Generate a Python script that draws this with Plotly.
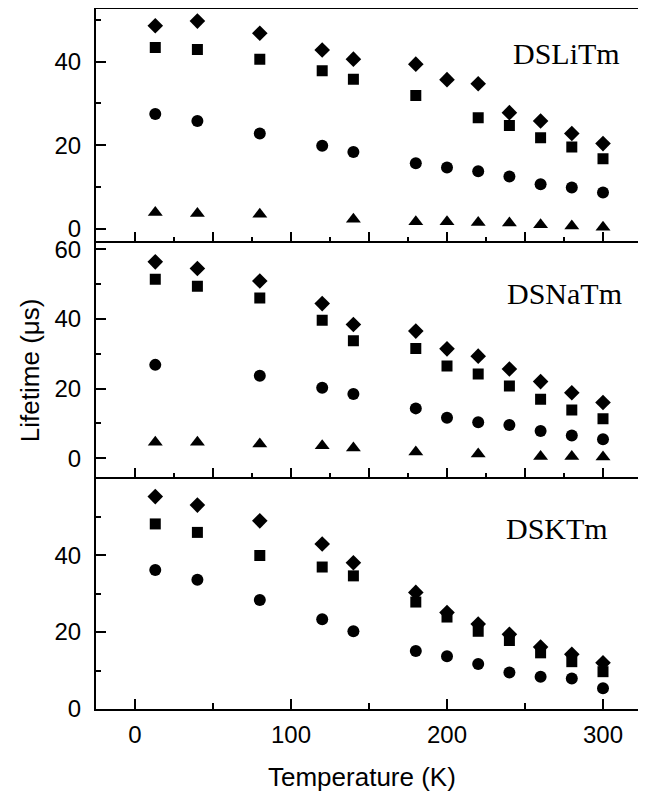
import plotly.graph_objects as go
from plotly.subplots import make_subplots

temperature = [13, 40, 80, 120, 140, 180, 200, 220, 240, 260, 280, 300]

# DSLiTm
li_diamond = [48.6, 49.7, 46.8, 42.8, 40.6, 39.4, 35.7, 34.7, 27.8, 25.8, 22.8, 20.4]
li_square = [43.4, 42.9, 40.6, 37.8, 35.8, 31.9, None, 26.6, 24.7, 21.8, 19.6, 16.8]
li_circle = [27.5, 25.8, 22.8, 19.9, 18.4, 15.7, 14.7, 13.8, 12.5, 10.7, 9.9, 8.7]
li_triangle = [3.9, 3.7, 3.5, None, 2.3, 1.7, 1.7, 1.5, 1.4, 1.0, 0.7, 0.4]

# DSNaTm
na_diamond = [56.4, 54.5, 50.9, 44.4, 38.4, 36.5, 31.4, 29.3, 25.6, 22.0, 18.8, 16.0]
na_square = [51.4, 49.4, 46.0, 39.6, 33.7, 31.5, 26.5, 24.2, 20.7, 16.9, 13.8, 11.3]
na_circle = [26.8, None, 23.7, 20.2, 18.4, 14.3, 11.6, 10.3, 9.5, 7.8, 6.5, 5.4]
na_triangle = [4.6, 4.6, 4.1, 3.6, 2.9, 1.8, None, 1.2, None, 0.5, 0.5, 0.3]

# DSKTm
k_diamond = [55.2, 53.0, 48.9, 42.9, 38.0, 30.3, 25.1, 22.1, 19.4, 16.1, 14.2, 12.0]
k_square = [48.1, 45.9, 39.9, 36.9, 34.6, 27.8, 23.9, 20.2, 17.8, 14.6, 12.3, 9.7]
k_circle = [36.1, 33.6, 28.3, 23.3, 20.2, 15.1, 13.7, 11.7, 9.5, 8.4, 7.9, 5.4]

panel_names = ["DSLiTm", "DSNaTm", "DSKTm"]
y_ranges = [[-3, 52.6], [-5.5, 61.7], [0, 59.7]]

fig = make_subplots(rows=3, cols=1, shared_xaxes=True, vertical_spacing=0)

def add_series(row, ys, symbol, size):
    fig.add_trace(go.Scatter(x=temperature, y=ys, mode="markers",
                             marker=dict(symbol=symbol, size=size, color="black",
                                         line=dict(width=0)),
                             showlegend=False), row=row, col=1)

for row, series in enumerate([
        (li_diamond, li_square, li_circle, li_triangle),
        (na_diamond, na_square, na_circle, na_triangle),
        (k_diamond, k_square, k_circle, None)], start=1):
    d, s, c, t = series
    add_series(row, c, "circle", 12)
    if t is not None:
        add_series(row, t, "triangle-up", 13)
    add_series(row, s, "square", 11)
    add_series(row, d, "diamond", 12)

tick_font = dict(family="Liberation Sans, Arial, sans-serif", size=24, color="black")
gap = 2 / 700
domains = [[0.668, 1.0], [0.331, 0.668 - gap], [0.0, 0.331 - gap]]

for i in range(3):
    sfx = "" if i == 0 else str(i + 1)
    bottom = (i == 2)
    fig.layout["xaxis" + sfx].update(
        range=[-25, 325], showline=True, mirror=True, linecolor="black", linewidth=2,
        ticks="inside", ticklen=10 if bottom else 9, tickwidth=2, tickcolor="black",
        tick0=0, dtick=100 if bottom else 50,
        minor=dict(ticks="inside", dtick=50 if bottom else 25, ticklen=6 if bottom else 4,
                   tickwidth=2, tickcolor="black"),
        showticklabels=bottom, tickfont=tick_font, ticklabelstandoff=3,
        showgrid=False, zeroline=False, automargin=False)
    fig.layout["yaxis" + sfx].update(
        domain=domains[i], range=y_ranges[i], showline=True, mirror=True,
        linecolor="black", linewidth=2,
        ticks="inside", ticklen=10, tickwidth=2, tickcolor="black",
        tick0=0, dtick=20,
        minor=dict(ticks="inside", dtick=10, ticklen=5, tickwidth=2, tickcolor="black"),
        tickfont=tick_font, ticklabelstandoff=8,
        showgrid=False, zeroline=False, automargin=False)

label_pos = [(0.963, 0.807), (0.967, 0.784), (0.941, 0.784)]
for i, name in enumerate(panel_names):
    sfx = "" if i == 0 else str(i + 1)
    fig.add_annotation(text=name, xref="x" + sfx + " domain", yref="y" + sfx + " domain",
                       x=label_pos[i][0], y=label_pos[i][1], xanchor="right", yanchor="middle",
                       showarrow=False,
                       font=dict(family="Liberation Serif, Times New Roman, serif", size=30,
                                 color="black"))

title_font = dict(family="Liberation Sans, Arial, sans-serif", size=26, color="black")
fig.add_annotation(text="Lifetime (μs)", xref="paper", yref="paper", x=-0.121, y=0.484,
                   textangle=-90, showarrow=False, xanchor="center", yanchor="middle",
                   font=title_font)
fig.add_annotation(text="Temperature (K)", xref="paper", yref="paper", x=0.487, y=-0.097,
                   showarrow=False, xanchor="center", yanchor="middle", font=title_font)

# the page body adds an 8px offset, so the figure is sized to fill the rest of the window
fig.update_layout(width=638, height=786, plot_bgcolor="white", paper_bgcolor="white",
                  margin=dict(l=88, r=4, t=1, b=85, autoexpand=False))

fig.write_html("out.html")
